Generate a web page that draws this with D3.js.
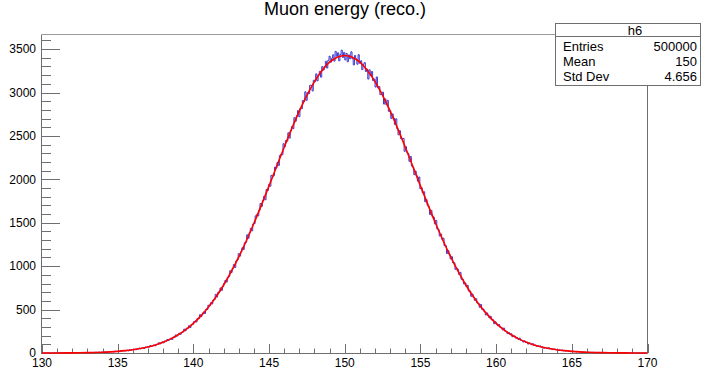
<!DOCTYPE html>
<html><head><meta charset="utf-8">
<script src="https://cdn.jsdelivr.net/npm/d3@7"></script>
<style>
html,body{margin:0;padding:0;background:#fff;}
text{font-family:"Liberation Sans",Arial,Helvetica,sans-serif;fill:#000;}
</style></head>
<body>
<svg id="c" width="701" height="380"></svg>
<script>
// ---- data ----
const title = "Muon energy (reco.)";
const histName = "h6";
const xRange = [130, 170];
const nBins = 500;
// bin contents, 500 bins from 130 to 170 (width 0.08)
const counts = [
0,0,1,0,0,1,0,0,1,0,
1,0,1,2,0,1,1,0,2,1,
1,2,0,2,1,3,2,1,3,2,
5,2,3,4,2,4,3,6,4,5,
6,4,7,6,10,5,8,9,6,11,
9,10,13,8,13,11,17,13,16,13,
21,18,18,22,16,25,23,29,24,28,
31,25,38,33,40,37,43,37,47,46,
57,48,56,60,53,69,65,73,68,85,
76,84,93,82,99,98,118,104,116,128,
117,137,136,155,144,158,170,155,182,181,
208,195,213,228,216,237,242,275,256,285,
285,314,293,325,328,361,365,357,398,396,
441,419,447,471,455,499,501,550,545,579,
565,608,616,676,645,697,705,749,722,766,
803,836,817,870,880,947,928,975,1018,985,
1061,1072,1144,1116,1165,1211,1193,1269,1275,1361,
1322,1384,1435,1407,1485,1491,1579,1593,1579,1641,
1721,1689,1757,1805,1764,1884,1873,1938,1921,2046,
2032,2045,2141,2130,2194,2159,2274,2287,2283,2410,
2377,2447,2441,2536,2475,2559,2607,2584,2710,2669,
2732,2791,2722,2820,2814,2907,2899,3008,2911,2998,
2987,3084,3082,3018,3141,3126,3215,3135,3201,3244,
3177,3298,3259,3298,3360,3282,3371,3418,3349,3395,
3434,3362,3474,3418,3457,3365,3438,3488,3404,3462,
3375,3450,3354,3433,3388,3469,3389,3318,3426,3388,
3326,3436,3337,3365,3264,3325,3344,3242,3269,3155,
3261,3195,3242,3137,3154,3063,3179,3054,3068,2976,
2987,3004,2867,2926,2859,2910,2783,2790,2702,2753,
2706,2632,2697,2582,2513,2560,2471,2466,2471,2323,
2376,2312,2296,2208,2263,2152,2139,2054,2095,2041,
1979,2027,1894,1903,1845,1857,1742,1766,1702,1684,
1596,1643,1573,1564,1487,1527,1430,1420,1347,1370,
1310,1322,1237,1235,1146,1179,1136,1084,1109,1041,
1039,964,975,964,905,928,849,846,796,806,
766,779,714,713,653,678,643,606,625,577,
570,526,559,503,506,477,438,462,435,405,
422,382,382,336,359,335,314,327,297,293,
265,287,251,249,223,236,216,222,188,198,
194,171,174,155,171,147,144,127,140,125,
125,103,116,107,95,107,88,91,77,85,
76,81,66,68,55,63,57,50,61,47,
50,39,43,45,36,37,28,36,30,35,
25,28,22,29,22,23,16,20,21,15,
16,12,19,13,14,9,13,10,11,7,
13,7,8,5,8,6,8,4,6,7,
4,5,3,6,3,4,2,4,3,3,
1,3,2,1,3,2,1,2,1,0,
2,1,1,0,2,1,0,1,1,0,
0,1,0,1,0,0,1,0,0,0
];
// fitted gaussian, sampled
const fitX = [130,130.5,131,131.5,132,132.5,133,133.5,134,134.5,135,135.5,136,136.5,137,137.5,138,138.5,139,139.5,
140,140.5,141,141.5,142,142.5,143,143.5,144,144.5,145,145.5,146,146.5,147,147.5,148,148.5,149,149.5,150,
150.5,151,151.5,152,152.5,153,153.5,154,154.5,155,155.5,156,156.5,157,157.5,158,158.5,159,159.5,
160,160.5,161,161.5,162,162.5,163,163.5,164,164.5,165,165.5,166,166.5,167,167.5,168,168.5,169,169.5,170];
const fitY = [0.34,0.53,0.83,1.28,1.95,2.93,4.37,6.43,9.35,13.4,19.1,26.9,37.3,51.2,69.5,93.3,123.7,162.3,210.4,269.6,
341.5,427.6,529.3,647.6,783.3,936.5,1107,1293,1494,1706,1925,2148,2370,2584,2785,2967,3125,3254,3349,3407,3427,
3407,3349,3254,3125,2967,2785,2584,2370,2148,1925,1706,1494,1293,1107,936.5,783.3,647.6,529.3,427.6,
341.5,269.6,210.4,162.3,123.7,93.3,69.5,51.2,37.3,26.9,19.1,13.4,9.35,6.43,4.37,2.93,1.95,1.28,0.83,0.53,0.34];
const xTicks = [130,135,140,145,150,155,160,165,170];
const yTicks = [0,500,1000,1500,2000,2500,3000,3500];
const statLabels = ["Entries","Mean","Std Dev"];
const statValues = ["500000","150","4.656"];

// ---- layout ----
const svg = d3.select("#c");
const L = 42, R = 647.5, T = 35, B = 353;
const yMax = d3.max(counts) * 1.05;
const x = d3.scaleLinear().domain(xRange).range([L, R]);
const y = d3.scaleLinear().domain([0, yMax]).range([B, T]);
const frameColor = "#6f6f6f";

// histogram
const bw = (xRange[1] - xRange[0]) / nBins;
const pts = [[xRange[0], 0]];
counts.forEach((c, i) => pts.push([xRange[0] + i * bw, c]));
pts.push([xRange[1], counts[counts.length - 1]]);
pts.push([xRange[1], 0]);
const stepLine = d3.line().x(d => x(d[0])).y(d => y(d[1])).curve(d3.curveStepAfter);
svg.append("path").attr("d", stepLine(pts)).attr("fill", "none")
  .attr("stroke", "#3a3ad0").attr("stroke-width", 1);

// frame
svg.append("line").attr("x1", L).attr("x2", R).attr("y1", T - 0.5).attr("y2", T - 0.5).attr("stroke", "#9a9a9a");
svg.append("line").attr("x1", R).attr("x2", R).attr("y1", T - 0.5).attr("y2", B).attr("stroke", frameColor);

// x axis
const gx = svg.append("g");
gx.append("line").attr("x1", L).attr("x2", R).attr("y1", B + 0.5).attr("y2", B + 0.5).attr("stroke", frameColor);
for (let v = xRange[0]; v <= xRange[1]; v += 1) {
  const major = xTicks.includes(v);
  gx.append("line").attr("x1", Math.round(x(v)) + 0.5).attr("x2", Math.round(x(v)) + 0.5)
    .attr("y1", B).attr("y2", B - (major ? 9 : 4.5)).attr("stroke", frameColor);
}
gx.selectAll("text").data(xTicks).join("text")
  .attr("x", d => x(d)).attr("y", 367).attr("text-anchor", "middle")
  .attr("font-size", 12).text(d => d);

// y axis
const gy = svg.append("g");
gy.append("line").attr("x1", L - 0.5).attr("x2", L - 0.5).attr("y1", T - 0.5).attr("y2", B + 1).attr("stroke", frameColor);
for (let v = 0; v <= yMax; v += 100) {
  const major = v % 500 === 0;
  const yy = Math.round(y(v)) + 0.5;
  gy.append("line").attr("x1", L).attr("x2", L + (major ? 18 : 9))
    .attr("y1", yy).attr("y2", yy).attr("stroke", frameColor);
}
gy.selectAll("text").data(yTicks).join("text")
  .attr("x", 36).attr("y", d => y(d) + 4.3).attr("text-anchor", "end")
  .attr("font-size", 12).text(d => d);

// fit
const fitLine = d3.line().x((d, i) => x(fitX[i])).y(d => y(d)).curve(d3.curveCatmullRom);
svg.append("path").attr("d", fitLine(fitY)).attr("fill", "none")
  .attr("stroke", "#ff0000").attr("stroke-width", 1.6);

// title
svg.append("text").attr("x", 345).attr("y", 15).attr("text-anchor", "middle")
  .attr("font-size", 18).text(title);

// stats box
const sb = svg.append("g");
sb.append("rect").attr("x", 555.5).attr("y", 23.5).attr("width", 145).attr("height", 62)
  .attr("fill", "#fff").attr("stroke", frameColor);
sb.append("line").attr("x1", 555.5).attr("x2", 700.5).attr("y1", 36.5).attr("y2", 36.5).attr("stroke", frameColor);
sb.append("text").attr("x", 635).attr("y", 34.5).attr("text-anchor", "middle").attr("font-size", 13).text(histName);
statLabels.forEach((s, i) => {
  sb.append("text").attr("x", 563).attr("y", 50.5 + i * 15.2).attr("font-size", 13).text(s);
  sb.append("text").attr("x", 697).attr("y", 50.5 + i * 15.2).attr("text-anchor", "end").attr("font-size", 13).text(statValues[i]);
});
</script>
</body></html>
